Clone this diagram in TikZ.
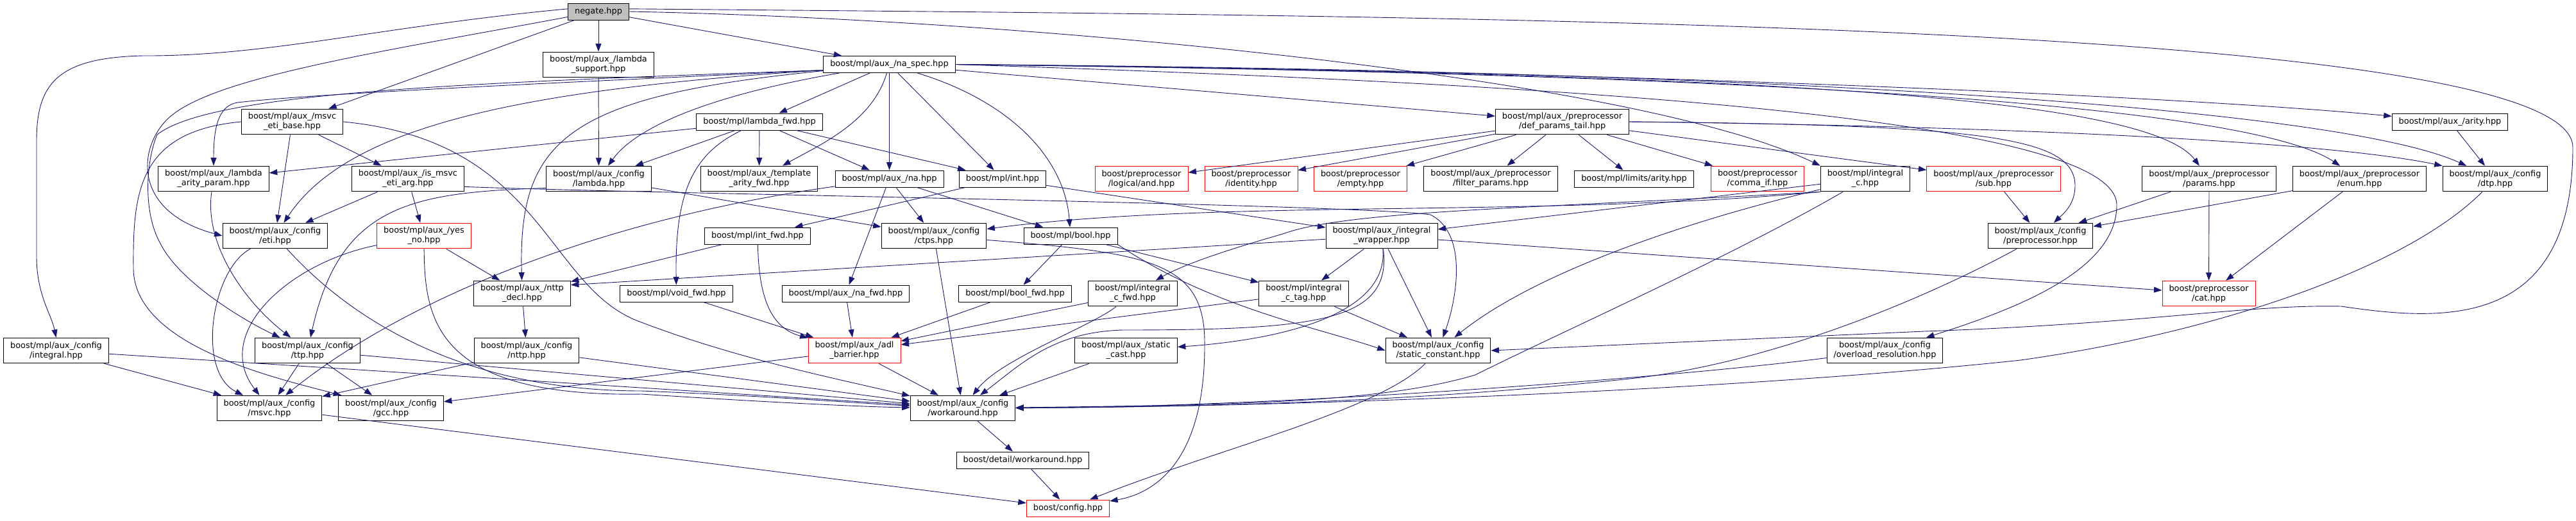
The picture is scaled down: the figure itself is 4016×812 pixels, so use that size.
\documentclass[tikz,border=0pt]{standalone}
\usepackage{fontspec}
\setmainfont{DejaVu Sans}
\usetikzlibrary{arrows.meta}
\definecolor{edgeblue}{HTML}{191970}
\definecolor{rootgray}{HTML}{BFBFBF}

\begin{document}
\begin{tikzpicture}[x = 1pt, y = -1pt, line width = 1pt,
                        header/.style = {draw = black, fill = white, align = center, inner xsep = 10.5pt, inner ysep = 6pt, minimum height = 26pt, font = \fontsize{12.9pt}{15pt}\selectfont},
                        missing/.style = {header, draw = red},
                        current/.style = {header, fill = rootgray},
                        dep/.style = {draw = edgeblue, line width = 0.9pt, -{Triangle[length = 12.5pt, width = 9pt]}}]
      \useasboundingbox (0, 0) rectangle (4016, 812);
      \node [current] (negate) at (933, 18){negate.hpp};
      \node [header] (lsupport) at (933, 101){boost/mpl/aux\_/lambda\\\_support.hpp};
      \node [header] (naspec) at (1386.5, 100.5){boost/mpl/aux\_/na\_spec.hpp};
      \node [header] (etibase) at (455.5, 190){boost/mpl/aux\_/msvc\\\_eti\_base.hpp};
      \node [header] (lambdafwd) at (1184, 190){boost/mpl/lambda\_fwd.hpp};
      \node [header] (dpt) at (2435.5, 190){boost/mpl/aux\_/preprocessor\\/def\_params\_tail.hpp};
      \node [header] (arity) at (3819.5, 190){boost/mpl/aux\_/arity.hpp};
      \node [header] (lap) at (333, 279){boost/mpl/aux\_/lambda\\\_arity\_param.hpp};
      \node [header] (iseti) at (636, 279){boost/mpl/aux\_/is\_msvc\\\_eti\_arg.hpp};
      \node [header] (cfglambda) at (933.5, 279){boost/mpl/aux\_/config\\/lambda.hpp};
      \node [header] (taf) at (1183.5, 279){boost/mpl/aux\_/template\\\_arity\_fwd.hpp};
      \node [header] (na) at (1386.5, 279){boost/mpl/aux\_/na.hpp};
      \node [header] (int) at (1563, 279){boost/mpl/int.hpp};
      \node [missing] (ppand) at (1779.5, 279){boost/preprocessor\\/logical/and.hpp};
      \node [missing] (ppidentity) at (1950.5, 279){boost/preprocessor\\/identity.hpp};
      \node [missing] (ppempty) at (2121, 279){boost/preprocessor\\/empty.hpp};
      \node [header] (filter) at (2324, 279){boost/mpl/aux\_/preprocessor\\/filter\_params.hpp};
      \node [header] (limarity) at (2547.5, 279){boost/mpl/limits/arity.hpp};
      \node [missing] (commaif) at (2740, 279){boost/preprocessor\\/comma\_if.hpp};
      \node [header] (intc) at (2908, 279){boost/mpl/integral\\\_c.hpp};
      \node [missing] (ppsub) at (3108, 279){boost/mpl/aux\_/preprocessor\\/sub.hpp};
      \node [header] (params) at (3444, 279){boost/mpl/aux\_/preprocessor\\/params.hpp};
      \node [header] (enum) at (3678.5, 279){boost/mpl/aux\_/preprocessor\\/enum.hpp};
      \node [header] (dtp) at (3890, 279){boost/mpl/aux\_/config\\/dtp.hpp};
      \node [header] (cfgeti) at (429, 368){boost/mpl/aux\_/config\\/eti.hpp};
      \node [missing] (yesno) at (661, 368){boost/mpl/aux\_/yes\\\_no.hpp};
      \node [header] (intfwd) at (1181, 368){boost/mpl/int\_fwd.hpp};
      \node [header] (ctps) at (1456, 368){boost/mpl/aux\_/config\\/ctps.hpp};
      \node [header] (bool) at (1669, 368){boost/mpl/bool.hpp};
      \node [header] (iwrapper) at (2154, 368){boost/mpl/aux\_/integral\\\_wrapper.hpp};
      \node [header] (cfgpp) at (3181, 368){boost/mpl/aux\_/config\\/preprocessor.hpp};
      \node [header] (nttpdecl) at (814, 458){boost/mpl/aux\_/nttp\\\_decl.hpp};
      \node [header] (voidfwd) at (1054.5, 458){boost/mpl/void\_fwd.hpp};
      \node [header] (nafwd) at (1318.5, 458){boost/mpl/aux\_/na\_fwd.hpp};
      \node [header] (boolfwd) at (1582.5, 458){boost/mpl/bool\_fwd.hpp};
      \node [header] (intcfwd) at (1766, 458){boost/mpl/integral\\\_c\_fwd.hpp};
      \node [header] (intctag) at (2032.5, 458){boost/mpl/integral\\\_c\_tag.hpp};
      \node [missing] (cat) at (3443.5, 458){boost/preprocessor\\/cat.hpp};
      \node [header] (cfgintegral) at (87.5, 547){boost/mpl/aux\_/config\\/integral.hpp};
      \node [header] (ttp) at (479.5, 547){boost/mpl/aux\_/config\\/ttp.hpp};
      \node [header] (nttp) at (821, 547){boost/mpl/aux\_/config\\/nttp.hpp};
      \node [missing] (adl) at (1332, 547){boost/mpl/aux\_/adl\\\_barrier.hpp};
      \node [header] (staticcast) at (1755.5, 547){boost/mpl/aux\_/static\\\_cast.hpp};
      \node [header] (sconst) at (2242, 547){boost/mpl/aux\_/config\\/static\_constant.hpp};
      \node [header] (overload) at (2938.5, 547){boost/mpl/aux\_/config\\/overload\_resolution.hpp};
      \node [header] (msvc) at (420, 637){boost/mpl/aux\_/config\\/msvc.hpp};
      \node [header] (gcc) at (609.5, 637){boost/mpl/aux\_/config\\/gcc.hpp};
      \node [header] (workaround) at (1501, 637){boost/mpl/aux\_/config\\/workaround.hpp};
      \node [header] (dworkaround) at (1594.5, 718){boost/detail/workaround.hpp};
      \node [missing] (config) at (1665, 793){boost/config.hpp};
      \draw [dep] (negate.175) .. controls (600, 40) and (420, 88) .. (223, 87) .. controls (90, 90) and (57, 130) .. (57, 220) -- (57, 400) .. controls (57, 460) and (80, 490) .. (cfgintegral.north);
      \draw [dep] (negate.190) .. controls (600, 80) and (330, 120) .. (262, 185) .. controls (215, 230) and (205, 330) .. (cfgeti.west);
      \draw [dep] (negate) -- (etibase);
      \draw [dep] (negate) -- (lsupport);
      \draw [dep] (negate) -- (naspec);
      \draw [dep] (negate.east) .. controls (1600, 30) and (2550, 120) .. (intc.north west);
      \draw [dep] (negate.5) .. controls (2200, 25) and (4011, 30) .. (4011, 230) .. controls (4011, 520) and (3800, 500) .. (3650, 478) .. controls (3500, 475) and (3350, 505) .. (3000, 517) -- (sconst.east);
      \draw [dep] (lsupport) -- (cfglambda);
      \draw [dep] (naspec) -- (lambdafwd);
      \draw [dep] (naspec) .. controls (1360, 190) and (1280, 225) .. (taf);
      \draw [dep] (naspec) -- (na);
      \draw [dep] (naspec) -- (int);
      \draw [dep] (naspec) .. controls (1580, 160) and (1660, 250) .. (bool);
      \draw [dep] (naspec.185) .. controls (900, 128) and (500, 145) .. (370, 160) .. controls (340, 165) and (333, 200) .. (lap);
      \draw [dep] (naspec.185) .. controls (700, 130) and (330, 145) .. (245, 210) .. controls (228, 250) and (222, 330) .. (250, 380) .. controls (280, 440) and (380, 500) .. (ttp);
      \draw [dep] (naspec.185) .. controls (800, 140) and (540, 200) .. (cfgeti);
      \draw [dep] (naspec) .. controls (880, 150) and (808, 220) .. (nttpdecl);
      \draw [dep] (naspec) .. controls (1100, 150) and (990, 200) .. (cfglambda);
      \draw [dep] (naspec) -- (dpt);
      \draw [dep] (naspec.east) .. controls (2500, 110) and (3400, 150) .. (arity);
      \draw [dep] (naspec.east) .. controls (2600, 115) and (3340, 140) .. (params);
      \draw [dep] (naspec.east) .. controls (2700, 115) and (3500, 160) .. (enum);
      \draw [dep] (naspec.east) .. controls (2800, 110) and (3650, 170) .. (dtp);
      \draw [dep] (naspec.east) .. controls (2400, 130) and (3300, 180) .. (3300, 320) .. controls (3300, 420) and (3150, 480) .. (overload);
      \draw [dep] (etibase) -- (iseti);
      \draw [dep] (etibase) -- (cfgeti);
      \draw [dep] (etibase.west) .. controls (215, 205) and (207, 300) .. (208, 420) .. controls (210, 540) and (430, 590) .. (gcc);
      \draw [dep] (etibase.east) .. controls (850, 220) and (850, 450) .. (1000, 503) .. controls (1150, 560) and (1300, 590) .. (workaround);
      \draw [dep] (lambdafwd) .. controls (1080, 240) and (1052, 300) .. (voidfwd);
      \draw [dep] (lambdafwd) -- (na);
      \draw [dep] (lambdafwd) -- (cfglambda);
      \draw [dep] (lambdafwd) -- (int);
      \draw [dep] (lambdafwd) -- (lap);
      \draw [dep] (lambdafwd) -- (taf);
      \draw [dep] (dpt) -- (ppand);
      \draw [dep] (dpt) -- (ppidentity);
      \draw [dep] (dpt) -- (ppempty);
      \draw [dep] (dpt) -- (filter);
      \draw [dep] (dpt) -- (limarity);
      \draw [dep] (dpt) -- (commaif);
      \draw [dep] (dpt) -- (ppsub);
      \draw [dep] (dpt.east) .. controls (3000, 195) and (3600, 215) .. (dtp.north west);
      \draw [dep] (dpt.east) .. controls (3100, 195) and (3235, 215) .. (3235, 290) .. controls (3235, 320) and (3215, 335) .. (cfgpp);
      \draw [dep] (arity) -- (dtp);
      \draw [dep] (lap) .. controls (318, 380) and (380, 470) .. (ttp);
      \draw [dep] (iseti) -- (yesno);
      \draw [dep] (iseti) -- (cfgeti);
      \draw [dep] (iseti.-8) .. controls (1000, 302) and (2100, 318) .. (2230, 335) .. controls (2290, 365) and (2270, 470) .. (sconst);
      \draw [dep] (cfglambda.190) .. controls (640, 300) and (530, 320) .. (ttp);
      \draw [dep] (cfglambda) -- (ctps);
      \draw [dep] (na) -- (nafwd);
      \draw [dep] (na) -- (bool);
      \draw [dep] (na) -- (ctps);
      \draw [dep] (na) .. controls (950, 340) and (640, 460) .. (msvc);
      \draw [dep] (int) -- (intfwd);
      \draw [dep] (int) -- (iwrapper);
      \draw [dep] (intc.south west) .. controls (2400, 325) and (2100, 328) .. (2000, 365) .. controls (1930, 385) and (1850, 410) .. (intcfwd);
      \draw [dep] (intc.south west) .. controls (2400, 340) and (1900, 310) .. (ctps);
      \draw [dep] (intc) -- (iwrapper);
      \draw [dep] (intc) .. controls (2650, 340) and (2400, 420) .. (sconst);
      \draw [dep] (intc) .. controls (2700, 400) and (2430, 520) .. (2300, 585) .. controls (2150, 630) and (1900, 632) .. (workaround);
      \draw [dep] (ppsub) -- (cfgpp);
      \draw [dep] (params) -- (cfgpp);
      \draw [dep] (params) -- (cat);
      \draw [dep] (enum) -- (cfgpp);
      \draw [dep] (enum) -- (cat);
      \draw [dep] (dtp) .. controls (3750, 420) and (3450, 520) .. (3150, 562) .. controls (2700, 610) and (2000, 635) .. (workaround);
      \draw [dep] (cfgeti) .. controls (330, 420) and (305, 580) .. (msvc);
      \draw [dep] (cfgeti) .. controls (530, 480) and (700, 610) .. (1000, 610) .. controls (1200, 618) and (1350, 630) .. (workaround);
      \draw [dep] (yesno) -- (nttpdecl);
      \draw [dep] (yesno) .. controls (450, 410) and (330, 520) .. (msvc);
      \draw [dep] (yesno) .. controls (662, 500) and (680, 620) .. (1000, 615) .. controls (1200, 628) and (1350, 635) .. (workaround);
      \draw [dep] (intfwd) .. controls (1183, 450) and (1195, 510) .. (adl);
      \draw [dep] (intfwd) -- (nttpdecl);
      \draw [dep] (ctps) -- (workaround);
      \draw [dep] (ctps) .. controls (1800, 395) and (1880, 410) .. (1878, 540) .. controls (1878, 720) and (1800, 770) .. (config);
      \draw [dep] (bool) -- (boolfwd);
      \draw [dep] (bool) -- (intctag);
      \draw [dep] (bool.south east) .. controls (1890, 480) and (2050, 510) .. (sconst.west);
      \draw [dep] (iwrapper) -- (intctag);
      \draw [dep] (iwrapper) .. controls (2165, 490) and (2000, 530) .. (staticcast);
      \draw [dep] (iwrapper) -- (nttpdecl.10);
      \draw [dep] (iwrapper) -- (sconst);
      \draw [dep] (iwrapper) .. controls (2170, 500) and (2060, 515) .. (1750, 515) .. controls (1640, 518) and (1590, 570) .. (workaround);
      \draw [dep] (iwrapper) -- (cat);
      \draw [dep] (cfgpp) .. controls (3050, 440) and (2800, 560) .. (2550, 590) .. controls (2200, 628) and (1900, 634) .. (workaround);
      \draw [dep] (nttpdecl) -- (nttp);
      \draw [dep] (voidfwd) -- (adl);
      \draw [dep] (nafwd) -- (adl);
      \draw [dep] (boolfwd) -- (adl);
      \draw [dep] (intcfwd) -- (adl);
      \draw [dep] (intcfwd) .. controls (1700, 510) and (1560, 560) .. (workaround);
      \draw [dep] (intctag) -- (adl);
      \draw [dep] (intctag) -- (sconst);
      \draw [dep] (cfgintegral) -- (msvc);
      \draw [dep] (cfgintegral) -- (workaround);
      \draw [dep] (ttp) -- (msvc);
      \draw [dep] (ttp) -- (gcc);
      \draw [dep] (ttp) -- (workaround);
      \draw [dep] (nttp) -- (msvc);
      \draw [dep] (nttp) -- (workaround);
      \draw [dep] (adl) -- (gcc);
      \draw [dep] (adl) -- (workaround);
      \draw [dep] (staticcast) -- (workaround);
      \draw [dep] (sconst) .. controls (2150, 640) and (1900, 700) .. (config);
      \draw [dep] (overload) .. controls (2600, 590) and (2000, 635) .. (workaround);
      \draw [dep] (msvc) -- (config);
      \draw [dep] (workaround) -- (dworkaround);
      \draw [dep] (dworkaround) -- (config);
    \end{tikzpicture}
\end{document}
